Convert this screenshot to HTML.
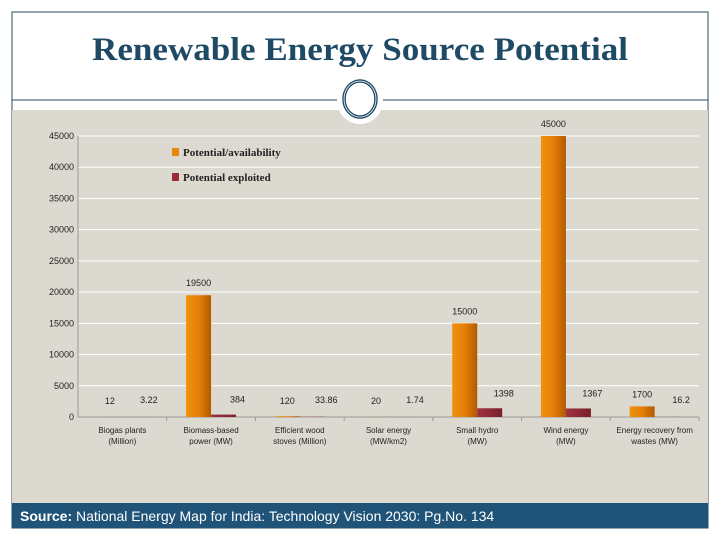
<!DOCTYPE html>
<html><head><meta charset="utf-8"><style>
body{margin:0;width:720px;height:540px;background:#fff;overflow:hidden;font-family:"Liberation Sans",sans-serif}
</style></head><body>
<svg width="720" height="540">
<defs>
<linearGradient id="og" x1="0" x2="1"><stop offset="0" stop-color="#f0920e"/><stop offset="0.5" stop-color="#e57f06"/><stop offset="1" stop-color="#b25a02"/></linearGradient>
<linearGradient id="rg" x1="0" x2="1"><stop offset="0" stop-color="#a23240"/><stop offset="1" stop-color="#7a1f2a"/></linearGradient>
</defs>
<rect x="12" y="12" width="696" height="516" fill="#fff" stroke="#2d4a5e" stroke-width="1"/>
<text x="92" y="60" textLength="536" lengthAdjust="spacingAndGlyphs" font-family="Liberation Serif,serif" font-weight="bold" font-size="33" fill="#1f4a66">Renewable Energy Source Potential</text>
<rect x="12" y="110" width="696" height="393" fill="#dcd9d1"/>
<line x1="12" y1="100" x2="708" y2="100" stroke="#2d4a5e"/>
<circle cx="360" cy="101" r="23" fill="#fff"/>
<ellipse cx="360" cy="99" rx="16" ry="18" fill="none" stroke="#1f4a66" stroke-width="3.5"/>
<ellipse cx="360" cy="99" rx="16" ry="18" fill="none" stroke="#fff" stroke-width="0.8"/>
<g id="chart"></g>
<rect x="12" y="503" width="696" height="25" fill="#1f5478"/>
<text x="20" y="521" font-size="14" fill="#fff"><tspan font-weight="bold">Source:</tspan> National Energy Map for India: Technology Vision 2030:  Pg.No.  134</text>
</svg>
<script>
const categories=[["Biogas plants","(Million)"],["Biomass-based","power (MW)"],["Efficient wood","stoves (Million)"],["Solar energy","(MW/km2)"],["Small hydro","(MW)"],["Wind energy","(MW)"],["Energy recovery from","wastes (MW)"]];
const potential=[12,19500,120,20,15000,45000,1700];
const exploited=[3.22,384,33.86,1.74,1398,1367,16.2];
const potentialLabels=["12","19500","120","20","15000","45000","1700"];
const exploitedLabels=["3.22","384","33.86","1.74","1398","1367","16.2"];
const yTicks=[0,5000,10000,15000,20000,25000,30000,35000,40000,45000];
const NS="http://www.w3.org/2000/svg";
const g=document.getElementById('chart');
const x0=78,x1=699,y0=417,yTop=136,yMax=45000;
const y=v=>y0-(v/yMax)*(y0-yTop);
const step=(x1-x0)/categories.length;
function mk(t,a,txt){const e=document.createElementNS(NS,t);for(const k in a)e.setAttribute(k,a[k]);if(txt!==undefined)e.textContent=txt;g.appendChild(e);return e;}
yTicks.forEach(t=>{
 const l=mk('line',{x1:x0,x2:x1,y1:y(t),y2:y(t),stroke:t?'#fff':'#999','stroke-width':1});
 
 
 const tx=mk('text',{x:x0-4,y:y(t)+3,'text-anchor':'end','font-size':9,fill:'#222'},t);
 
 
});
const ax=mk('line',{x1:x0,x2:x0,y1:yTop,y2:y0,stroke:'#999'});


categories.forEach((c,i)=>{
 const cx=x0+step*(i+0.5);
 const tk=mk('line',{x1:x0+step*(i+1),x2:x0+step*(i+1),y1:y0,y2:y0+4,stroke:'#999'});
 
 
 const w=25;
 const b1=mk('rect',{x:cx-w,y:y(potential[i]),width:w,height:y0-y(potential[i]),fill:'url(#og)'});
 
 
 const b2=mk('rect',{x:cx,y:y(exploited[i]),width:w,height:y0-y(exploited[i]),fill:'url(#rg)'});
 
 
 const l1=mk('text',{x:cx-w/2,y:Math.min(y(potential[i])-9,404),'text-anchor':'middle','font-size':9,fill:'#222'},potentialLabels[i]);
 
 
 const l2=mk('text',{x:cx+w/2+14,y:Math.min(y(exploited[i])-12,403),'text-anchor':'middle','font-size':9,fill:'#222'},exploitedLabels[i]);
 
 
 c.forEach((s,j)=>{const t=mk('text',{x:cx,y:433+j*11,'text-anchor':'middle','font-size':8,fill:'#222'},s);
 
 });
});
[["Potential/availability","#e8850a",153],["Potential exploited","#9c2b38",178]].forEach(([n,c,yy])=>{
 const r=mk('rect',{x:172,y:yy-5,width:7,height:8,fill:c});
 
 
 const t=mk('text',{x:183,y:yy+3,'font-size':11,'font-weight':'bold','font-family':'Liberation Serif,serif',fill:'#222'},n);
 
 
});
</script>
</body></html>
